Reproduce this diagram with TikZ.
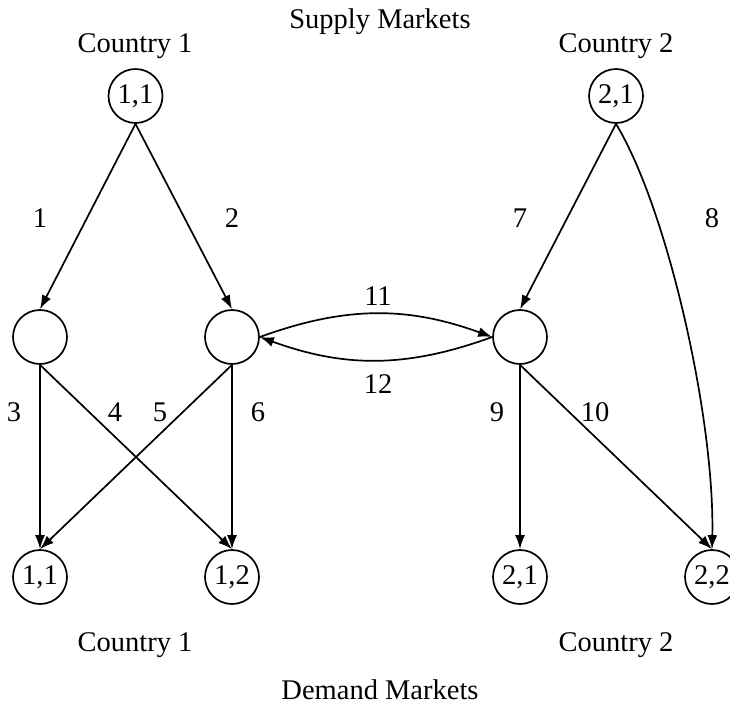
\documentclass[tikz,border=0pt]{standalone}
\usepackage{fontspec}
\setmainfont{Liberation Serif}
\usetikzlibrary{arrows.meta}
\begin{document}
\begin{tikzpicture}[x=1pt,y=1pt,
  mkt/.style={draw,circle,line width=1.7pt,minimum size=54pt,inner sep=0pt,font=\fontsize{28.5}{30}\selectfont},
  lbl/.style={font=\fontsize{28.5}{30}\selectfont,inner sep=0pt},
  link/.style={line width=1.7pt,-{Latex[length=14pt,width=10pt]}}]
\useasboundingbox (0,0) rectangle (730,-710);
% titles
\node[lbl] (supply) at (380,-22) {Supply Markets};
\node[lbl] (c1top) at (135,-46) {Country 1};
\node[lbl] (c2top) at (616,-46) {Country 2};
\node[lbl] (c1bot) at (135,-645) {Country 1};
\node[lbl] (c2bot) at (616,-645) {Country 2};
\node[lbl] (demand) at (380,-690) {Demand Markets};
% nodes
\node[mkt] (s11) at (135.5,-96) {1,1};
\node[mkt] (s21) at (616,-96) {2,1};
\node[mkt] (m1) at (40,-337) {};
\node[mkt] (m2) at (232,-337) {};
\node[mkt] (m3) at (520,-337) {};
\node[mkt] (d11) at (40,-577) {1,1};
\node[mkt] (d12) at (232,-577) {1,2};
\node[mkt] (d21) at (520,-577) {2,1};
\node[mkt] (d22) at (712,-577) {2,2};
% links
\draw[link] (s11.south) -- (m1.north);
\draw[link] (s11.south) -- (m2.north);
\draw[link] (s21.south) -- (m3.north);
\draw[link] (s21.south) .. controls (668,-210) and (715,-420) .. (d22.north);
\draw[link] (m1.south) -- (d11.north);
\draw[link] (m1.south) -- (d12.north);
\draw[link] (m2.south) -- (d11.north);
\draw[link] (m2.south) -- (d12.north);
\draw[link] (m3.south) -- (d21.north);
\draw[link] (m3.south) -- (d22.north);
\draw[link] (m2.east) to[bend left=20] (m3.west);
\draw[link] (m3.west) to[bend left=20] (m2.east);
% link labels
\node[lbl] (l1) at (40,-218) {1};
\node[lbl] (l2) at (232,-218) {2};
\node[lbl] (l7) at (520,-218) {7};
\node[lbl] (l8) at (712,-218) {8};
\node[lbl] (l3) at (14,-412) {3};
\node[lbl] (l4) at (115,-412) {4};
\node[lbl] (l5) at (160,-412) {5};
\node[lbl] (l6) at (258,-412) {6};
\node[lbl] (l9) at (497,-412) {9};
\node[lbl] (l10) at (595,-412) {10};
\node[lbl] (l11) at (378,-296) {11};
\node[lbl] (l12) at (378,-384) {12};
\end{tikzpicture}
\end{document}
